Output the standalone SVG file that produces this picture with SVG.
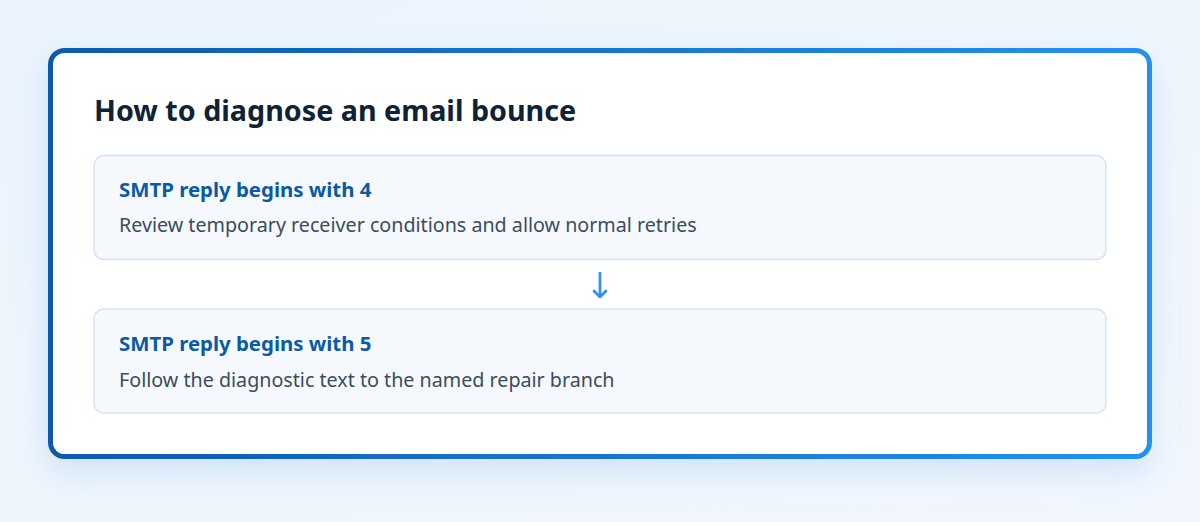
<svg xmlns="http://www.w3.org/2000/svg" width="1200" height="522" viewBox="0 0 1200 522">
  <defs>
    <linearGradient id="bg" x1="0" y1="0" x2="1" y2="1">
      <stop offset="0" stop-color="#ebf3fc"/>
      <stop offset="1" stop-color="#f2f7fd"/>
    </linearGradient>
    <linearGradient id="frameStroke" x1="0" y1="0" x2="1" y2="0">
      <stop offset="0" stop-color="#0b5aad"/>
      <stop offset="1" stop-color="#2392f0"/>
    </linearGradient>
    <filter id="shadow" x="-10%" y="-20%" width="120%" height="150%">
      <feDropShadow dx="0" dy="14" stdDeviation="16" flood-color="#7fb3e8" flood-opacity="0.28"/>
    </filter>
    <style>
      .title { font-family: "Noto Sans", "Open Sans", sans-serif; font-weight: 700; font-size: 28.7px; fill: #0f2236; }
      .card { fill: #f5f9fd; stroke: #d3e2f2; stroke-width: 1.3; }
      .head { font-family: "Noto Sans", "Open Sans", sans-serif; font-weight: 700; font-size: 20.4px; fill: #0b5aa6; }
      .body { font-family: "Noto Sans", "Open Sans", sans-serif; font-weight: 400; font-size: 19.7px; fill: #3b4c60; }
      .conn { stroke: #2f8fea; stroke-width: 2.7; fill: none; stroke-linecap: round; stroke-linejoin: round; }
    </style>
  </defs>

  <rect x="0" y="0" width="1200" height="522" fill="url(#bg)"/>

  <g id="frame">
    <rect x="50.5" y="50.5" width="1099" height="406" rx="14" ry="14" fill="#ffffff" stroke="url(#frameStroke)" stroke-width="5" filter="url(#shadow)"/>
    <text class="title" x="94" y="121">How to diagnose an email bounce</text>
  </g>

  <g id="node-reply-4">
    <rect class="card" x="94" y="155.5" width="1012" height="104" rx="10" ry="10"/>
    <text class="head" x="119" y="197">SMTP reply begins with 4</text>
    <text class="body" x="119" y="232">Review temporary receiver conditions and allow normal retries</text>
  </g>

  <g id="node-reply-5">
    <rect class="card" x="94" y="309" width="1012" height="104" rx="10" ry="10"/>
    <text class="head" x="119" y="351">SMTP reply begins with 5</text>
    <text class="body" x="119" y="387">Follow the diagnostic text to the named repair branch</text>
  </g>

  <g id="connectors">
    <path class="conn" d="M600 273 V297 M594 291 L600 297 L606 291"/>
  </g>
</svg>
